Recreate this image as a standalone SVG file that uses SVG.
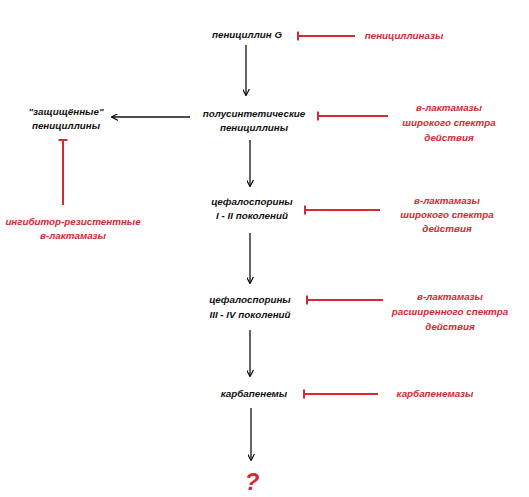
<svg xmlns="http://www.w3.org/2000/svg" width="529" height="497" viewBox="0 0 529 497">
<defs>
<marker id="ah" viewBox="0 0 10 10" refX="9" refY="5" markerWidth="7" markerHeight="7" orient="auto" markerUnits="userSpaceOnUse">
<path d="M0,0 L10,5 L0,10" fill="none" stroke="#000" stroke-width="1.6"/>
</marker>
</defs>
<style>
.t{font-family:"Liberation Sans",Arial,sans-serif;font-size:9.8px;font-weight:bold;font-style:italic;text-anchor:middle;fill:#111}
.r{fill:#d42a32}
.a{stroke:#111;stroke-width:1.3;fill:none;marker-end:url(#ah)}
.i{stroke:#d42a32;stroke-width:2;fill:none}
</style>
<rect width="529" height="497" fill="#fff"/>
<g id="connectors">
<line class="a" x1="246" y1="45" x2="246" y2="95"/>
<line class="a" x1="190" y1="117" x2="112" y2="117"/>
<line class="a" x1="250" y1="140" x2="250" y2="186"/>
<line class="a" x1="250" y1="233" x2="250" y2="283"/>
<line class="a" x1="250" y1="330" x2="250" y2="376"/>
<line class="a" x1="251" y1="408" x2="251" y2="460"/>
<path class="i" d="M298,36 H355 M298,31.5 V40.5"/>
<path class="i" d="M318,116 H388 M318,111.5 V120.5"/>
<path class="i" d="M63,140 V205 M58.5,140 H67.5"/>
<path class="i" d="M305,210 H380 M305,205.5 V214.5"/>
<path class="i" d="M307,300 H383 M307,295.5 V304.5"/>
<path class="i" d="M304,394 H378 M304,389.5 V398.5"/>
</g>
<g id="penG"><text class="t" x="247" y="38">пенициллин G</text></g>
<g id="penicillinase"><text class="t r" x="404" y="39">пенициллиназы</text></g>
<g id="semi"><text class="t" x="254" y="117">полусинтетические</text><text class="t" x="254" y="131">пенициллины</text></g>
<g id="bl1"><text class="t r" x="449" y="111">в-лактамазы</text><text class="t r" x="449" y="126">широкого спектра</text><text class="t r" x="449" y="141">действия</text></g>
<g id="protected"><text class="t" x="66" y="115">"защищённые"</text><text class="t" x="66" y="129">пенициллины</text></g>
<g id="irbl"><text class="t r" x="73" y="225">ингибитор-резистентные</text><text class="t r" x="73" y="239">в-лактамазы</text></g>
<g id="ceph12"><text class="t" x="252" y="205">цефалоспорины</text><text class="t" x="252" y="219">I - II поколений</text></g>
<g id="bl2"><text class="t r" x="447" y="204">в-лактамазы</text><text class="t r" x="447" y="218">широкого спектра</text><text class="t r" x="447" y="232">действия</text></g>
<g id="ceph34"><text class="t" x="250" y="303">цефалоспорины</text><text class="t" x="250" y="318">III - IV поколений</text></g>
<g id="bl3"><text class="t r" x="450" y="300">в-лактамазы</text><text class="t r" x="450" y="315">расширенного спектра</text><text class="t r" x="450" y="330">действия</text></g>
<g id="carb"><text class="t" x="254" y="397">карбапенемы</text></g>
<g id="carbase"><text class="t r" x="435" y="397">карбапенемазы</text></g>
<g id="q"><text class="t r" x="252" y="490" style="font-size:24px">?</text></g>
</svg>
